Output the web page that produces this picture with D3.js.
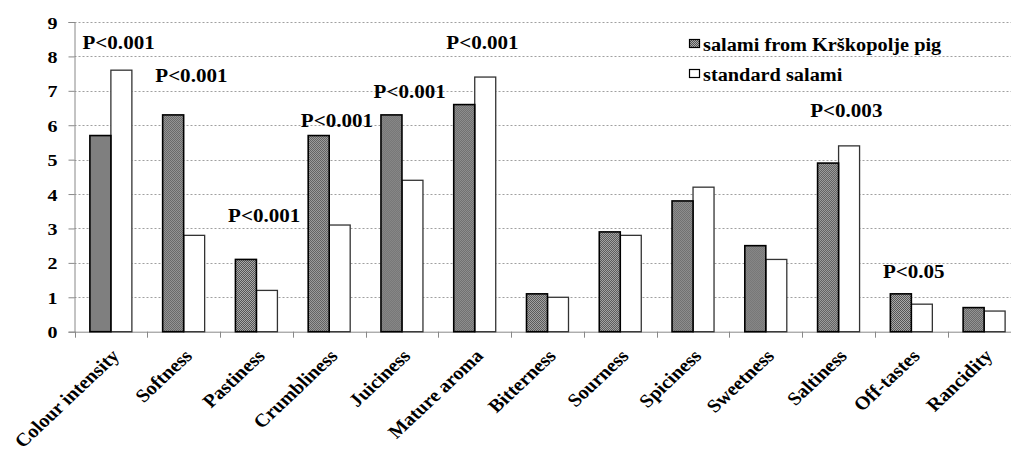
<!DOCTYPE html>
<html>
<head>
<meta charset="utf-8">
<script src="https://cdn.jsdelivr.net/npm/d3@7"></script>
<style>
  html, body { margin: 0; padding: 0; background: #fff; overflow: hidden; }
  svg { display: block; }
  text { font-family: "Liberation Serif", "Times New Roman", serif; font-weight: bold; fill: #000; }
</style>
</head>
<body>
<svg id="chart" width="1011" height="450"></svg>
<script>
// ---- data ----
const categories = ["Colour intensity", "Softness", "Pastiness", "Crumbliness", "Juiciness",
  "Mature aroma", "Bitterness", "Sourness", "Spiciness", "Sweetness", "Saltiness", "Off-tastes", "Rancidity"];
const krskopolje = [5.7, 6.3, 2.1, 5.7, 6.3, 6.6, 1.1, 2.9, 3.8, 2.5, 4.9, 1.1, 0.7];
const standard   = [7.6, 2.8, 1.2, 3.1, 4.4, 7.4, 1.0, 2.8, 4.2, 2.1, 5.4, 0.8, 0.6];
const seriesNames = ["salami from Krškopolje pig", "standard salami"];
const yTicks = [0, 1, 2, 3, 4, 5, 6, 7, 8, 9];
const pCategories = ["Colour intensity", "Softness", "Pastiness", "Crumbliness", "Juiciness", "Mature aroma", "Saltiness", "Off-tastes"];
const pLabels = ["P<0.001", "P<0.001", "P<0.001", "P<0.001", "P<0.001", "P<0.001", "P<0.003", "P<0.05"];
const pLevels = [8.22, 7.27, 3.2, 5.95, 6.8, 8.22, 6.25, 1.56];

// ---- layout ----
const svg = d3.select("#chart");
const plotLeft = 74.5, plotRight = 1020.5, plotTop = 22, plotBottom = 331.7;
const SX = 1.17; // horizontal text stretch

const x0 = d3.scaleBand().domain(categories).range([plotLeft, plotRight]).padding(0);
const x1 = d3.scaleBand().domain(seriesNames).range([0, x0.bandwidth()]).paddingInner(0).paddingOuter(0.733);
const y = d3.scaleLinear().domain([0, 9]).range([plotBottom, plotTop]);

// pattern
const defs = svg.append("defs");
const pat = defs.append("pattern").attr("id", "dots").attr("patternUnits", "userSpaceOnUse")
  .attr("width", 2).attr("height", 2);
pat.append("rect").attr("width", 2).attr("height", 2).attr("fill", "#525252");
pat.append("rect").attr("x", 0).attr("y", 0).attr("width", 1).attr("height", 1).attr("fill", "#acacac");
pat.append("rect").attr("x", 1).attr("y", 1).attr("width", 1).attr("height", 1).attr("fill", "#acacac");

// gridlines
svg.append("g").selectAll("line").data(yTicks.filter(d => d > 0)).join("line")
  .attr("x1", plotLeft).attr("x2", 1011)
  .attr("y1", d => Math.round(y(d)) + 0.5).attr("y2", d => Math.round(y(d)) + 0.5)
  .attr("stroke", "#a0a0a0").attr("stroke-width", 1).attr("stroke-dasharray", "2,2");

// y axis
const yAxis = svg.append("g").attr("transform", `translate(${plotLeft},0)`)
  .call(d3.axisLeft(y).tickValues(yTicks).tickSize(6).tickPadding(10).tickFormat(d3.format("d")));
yAxis.attr("font-family", null);
yAxis.select(".domain").attr("stroke", "#888");
yAxis.selectAll(".tick line").attr("stroke", "#888");
yAxis.selectAll(".tick text")
  .style("font-size", "16px")
  .attr("x", null).attr("dy", null)
  .attr("text-anchor", "end")
  .attr("transform", "translate(-17,6) scale(1.25,1)");

// x axis line and boundary ticks
const xg = svg.append("g");
xg.append("line").attr("x1", plotLeft).attr("x2", 1011).attr("y1", plotBottom + 0.5).attr("y2", plotBottom + 0.5)
  .attr("stroke", "#888");
xg.selectAll("line.bt").data(categories).join("line").attr("class", "bt")
  .attr("x1", d => Math.round(x0(d)) + 0.5).attr("x2", d => Math.round(x0(d)) + 0.5)
  .attr("y1", plotBottom).attr("y2", plotBottom + 6).attr("stroke", "#888");

// bars
const groups = svg.append("g").selectAll("g").data(categories).join("g")
  .attr("transform", d => `translate(${x0(d)},0)`);
groups.append("rect")
  .attr("x", d => x1(seriesNames[1]))
  .attr("y", (d, i) => y(standard[i]))
  .attr("width", x1.bandwidth())
  .attr("height", (d, i) => y(0) - y(standard[i]))
  .attr("fill", "#fff").attr("stroke", "#333").attr("stroke-width", 1.3);
groups.append("rect")
  .attr("x", d => x1(seriesNames[0]))
  .attr("y", (d, i) => y(krskopolje[i]))
  .attr("width", x1.bandwidth())
  .attr("height", (d, i) => y(0) - y(krskopolje[i]))
  .attr("fill", "url(#dots)").attr("stroke", "#000").attr("stroke-width", 1.6);

// x labels
svg.append("g").selectAll("text").data(categories).join("text")
  .attr("text-anchor", "end")
  .attr("dy", "0.72em")
  .style("font-size", "18.5px")
  .attr("transform", d => `translate(${x0(d) + x0.bandwidth() / 2 - 1},${plotBottom + 16}) scale(1.1,1) rotate(-46)`)
  .text(d => d);

// P labels
svg.append("g").selectAll("text").data(pLabels).join("text")
  .style("font-size", "18px")
  .attr("transform", (d, i) => `translate(${x0(pCategories[i]) + 8},${y(pLevels[i])}) scale(${SX},1)`)
  .text(d => d);

// legend
const lg = svg.append("g").attr("transform", "translate(689,39)");
const li = lg.selectAll("g").data(seriesNames).join("g")
  .attr("transform", (d, i) => `translate(0,${i * 30})`);
li.append("rect").attr("x", 0.5).attr("y", 0.5).attr("width", 10).attr("height", 8)
  .attr("fill", (d, i) => i === 0 ? "url(#dots)" : "#fff")
  .attr("stroke", "#000").attr("stroke-width", 1.2);
li.append("text").attr("transform", "translate(14,12) scale(1.07,1)")
  .style("font-size", "19px").text(d => d);
</script>
</body>
</html>
